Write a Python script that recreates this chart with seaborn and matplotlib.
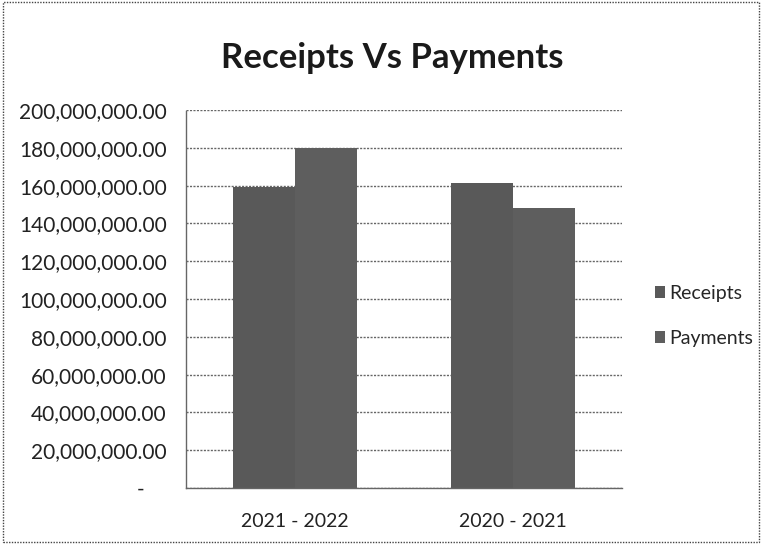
import matplotlib
matplotlib.use("Agg")
import matplotlib.pyplot as plt
import matplotlib.ticker as mticker
from matplotlib.patches import Rectangle
import seaborn as sns
import pandas as pd

categories = ["2021 - 2022", "2020 - 2021"]
series = ["Receipts", "Payments"]
receipts = [159_000_000, 161_500_000]
payments = [180_000_000, 148_000_000]
title = "Receipts Vs Payments"

df = pd.DataFrame({
    "Year": categories * 2,
    "Series": [series[0]] * 2 + [series[1]] * 2,
    "Value": receipts + payments,
})

sns.set_theme(style="white")
plt.rcParams["font.family"] = ["Lato", "DejaVu Sans"]

fig = plt.figure(figsize=(7.64, 5.44), dpi=100)
ax = fig.add_axes([186 / 764, 1 - 488 / 544, 436 / 764, 378 / 544])

sns.barplot(data=df, x="Year", y="Value", hue="Series", order=categories,
            hue_order=series, palette=["#595959", "#5e5e5e"], width=0.573,
            saturation=1, ax=ax, edgecolor="none", legend=True)

ax.set_ylim(0, 200_000_000)
ax.set_xlim(-0.5, 1.5)
ax.yaxis.set_major_locator(mticker.MultipleLocator(20_000_000))

def fmt(v, pos):
    if abs(v) < 1:
        return "-    "
    return f"{v:,.2f}"

ax.yaxis.set_major_formatter(mticker.FuncFormatter(fmt))
ax.set_xlabel("")
ax.set_ylabel("")
ax.tick_params(axis="y", labelsize=15, colors="#222222", length=0, pad=14)
ax.tick_params(axis="x", labelsize=14, colors="#222222", length=0, pad=18)
ax.grid(axis="y", color="#666666", linestyle=(0, (1.5, 1)), linewidth=1)
ax.set_axisbelow(True)
for s in ["top", "right"]:
    ax.spines[s].set_visible(False)
for s in ["left", "bottom"]:
    ax.spines[s].set_color("#666666")
    ax.spines[s].set_linestyle((0, (1.5, 1)))
    ax.spines[s].set_linewidth(1)

fig.text(392 / 764, 1 - 58 / 544, title, ha="center", va="center",
         fontsize=25, fontweight="bold", color="#1a1a1a")

handles, labels = ax.get_legend_handles_labels()
leg = ax.legend(handles, labels, loc="center left", bbox_to_anchor=(1.075, 0.455),
                frameon=False, fontsize=14, handlelength=0.55, handleheight=0.55,
                handletextpad=0.2, labelspacing=1.45, borderpad=0, borderaxespad=0)

fig.patches.append(Rectangle((0.004, 0.004), 0.99, 0.992, transform=fig.transFigure,
                             fill=False, edgecolor="#444444", linestyle=(0, (1, 1)),
                             linewidth=1))

fig.savefig("out.png", dpi=100)
